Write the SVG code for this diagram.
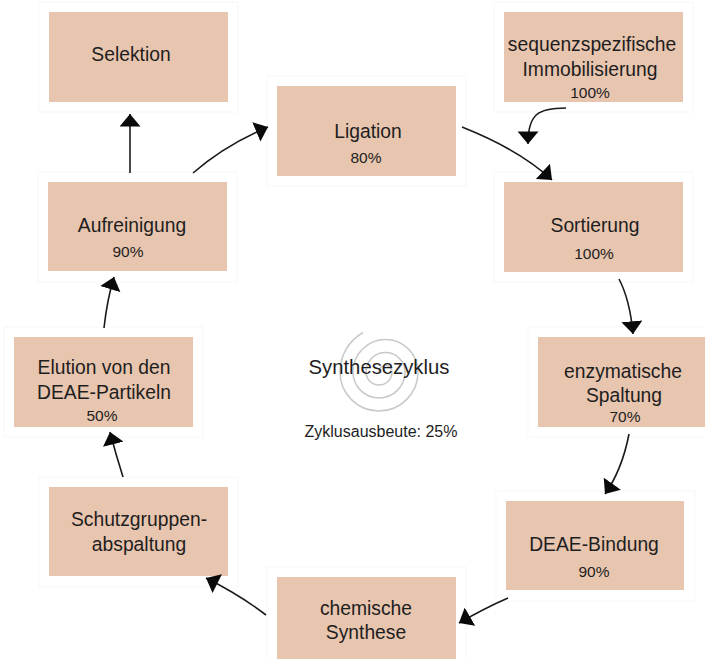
<svg xmlns="http://www.w3.org/2000/svg" width="705" height="659" viewBox="0 0 705 659">
  <style>
    .frame { fill: #ffffff; stroke: #f7f7f7; stroke-width: 1; }
    .box { fill: #e8c5af; }
    .t { font-family: "Liberation Sans", Arial, sans-serif; fill: #1e1e1e; text-anchor: middle; }
    .big { font-size: 19.3px; }
    .pct { font-size: 15.5px; }
    .conn { fill: none; stroke: #1a1a1a; stroke-width: 1.6; }
    .spiral { fill: none; stroke: #c9c9c9; stroke-width: 1.6; }
  </style>
  <defs>
    <marker id="arrow" viewBox="0 0 12 20" refX="12" refY="10" markerWidth="13" markerHeight="21" markerUnits="userSpaceOnUse" orient="auto">
      <path d="M0,0 L12,10 L0,20 Z" fill="#0a0a0a"/>
    </marker>
  </defs>
  <rect width="705" height="659" fill="#ffffff"/>

  <!-- centre label with spiral -->
  <g id="zyklus">
    <path class="spiral" d="M379,372 A6.5,6.5 0 0 1 392,372 A13,13 0 0 1 366,372 A19.5,19.5 0 0 1 405,372 A26,26 0 0 1 353,372 A32.5,32.5 0 0 1 418,372 A39,39 0 0 1 340,372 A45.5,45.5 0 0 1 363,332.5"/>
    <text class="t" x="379" y="374" font-size="20.3">Synthesezyklus</text>
    <text class="t" x="381" y="437" font-size="16">Zyklusausbeute: 25%</text>
  </g>

  <g id="selektion">
    <rect class="frame" x="39" y="2" width="199" height="110"/>
    <rect class="box" x="49" y="12" width="179" height="90"/>
    <text class="t big" x="131" y="61">Selektion</text>
  </g>

  <g id="immobilisierung">
    <rect class="frame" x="494" y="2" width="199" height="110"/>
    <rect class="box" x="504" y="12" width="179" height="90"/>
    <text class="t big" x="592" y="51">sequenzspezifische</text>
    <text class="t big" x="590" y="76">Immobilisierung</text>
    <text class="t pct" x="590" y="98">100%</text>
  </g>

  <g id="ligation">
    <rect class="frame" x="267" y="76" width="199" height="110"/>
    <rect class="box" x="277" y="86" width="179" height="90"/>
    <text class="t big" x="368" y="138">Ligation</text>
    <text class="t pct" x="366" y="163">80%</text>
  </g>

  <g id="sortierung">
    <rect class="frame" x="494" y="172" width="199" height="110"/>
    <rect class="box" x="504" y="182" width="179" height="90"/>
    <text class="t big" x="595" y="232">Sortierung</text>
    <text class="t pct" x="594" y="259">100%</text>
  </g>

  <g id="spaltung">
    <rect class="frame" x="528" y="327" width="199" height="110"/>
    <rect class="box" x="538" y="337" width="179" height="90"/>
    <text class="t big" x="623" y="378">enzymatische</text>
    <text class="t big" x="624" y="402">Spaltung</text>
    <text class="t pct" x="625" y="422">70%</text>
  </g>

  <g id="bindung">
    <rect class="frame" x="496" y="491" width="199" height="110"/>
    <rect class="box" x="506" y="501" width="178" height="89"/>
    <text class="t big" x="594" y="551">DEAE-Bindung</text>
    <text class="t pct" x="594" y="577">90%</text>
  </g>

  <g id="synthese">
    <rect class="frame" x="267" y="567" width="199" height="110"/>
    <rect class="box" x="277" y="577" width="179" height="90"/>
    <text class="t big" x="366" y="615">chemische</text>
    <text class="t big" x="366" y="639">Synthese</text>
  </g>

  <g id="schutzgruppen">
    <rect class="frame" x="39" y="477" width="199" height="110"/>
    <rect class="box" x="49" y="487" width="179" height="89"/>
    <text class="t big" x="139" y="526">Schutzgruppen-</text>
    <text class="t big" x="139" y="551">abspaltung</text>
  </g>

  <g id="elution">
    <rect class="frame" x="4" y="327" width="199" height="110"/>
    <rect class="box" x="14" y="337" width="179" height="90"/>
    <text class="t big" x="104" y="374">Elution von den</text>
    <text class="t big" x="104" y="399">DEAE-Partikeln</text>
    <text class="t pct" x="102" y="421">50%</text>
  </g>

  <g id="aufreinigung">
    <rect class="frame" x="38" y="172" width="199" height="110"/>
    <rect class="box" x="48" y="182" width="179" height="89"/>
    <text class="t big" x="132" y="232">Aufreinigung</text>
    <text class="t pct" x="128" y="257">90%</text>
  </g>

  <g id="connectors">
    <path class="conn" marker-end="url(#arrow)" d="M130,173 L130,114"/>
    <path class="conn" marker-end="url(#arrow)" d="M193,173 Q225,145 268,127"/>
    <path class="conn" marker-end="url(#arrow)" d="M462,127 Q520,150 552,180"/>
    <path class="conn" marker-end="url(#arrow)" d="M566,108 C538,108 528,114 528,144"/>
    <path class="conn" marker-end="url(#arrow)" d="M619,279 Q630,300 633,334"/>
    <path class="conn" marker-end="url(#arrow)" d="M629,434 Q622,470 605,494"/>
    <path class="conn" marker-end="url(#arrow)" d="M508,598 Q485,608 459,623"/>
    <path class="conn" marker-end="url(#arrow)" d="M266,615 Q240,595 206,578"/>
    <path class="conn" marker-end="url(#arrow)" d="M123,477 Q116,455 110,432"/>
    <path class="conn" marker-end="url(#arrow)" d="M104,328 Q107,300 114,277"/>
  </g>
</svg>
